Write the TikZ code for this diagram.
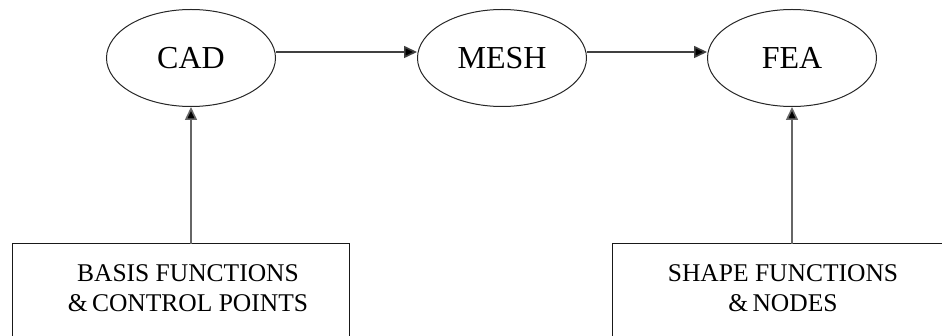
\documentclass[tikz,border=0pt]{standalone}
\usepackage{fontspec}
\setmainfont{Liberation Serif}
\usetikzlibrary{arrows.meta,shapes.geometric}
\begin{document}
\begin{tikzpicture}[x=1pt,y=-1pt,
  ell/.style={draw=black!85, line width=1pt, ellipse, minimum width=169pt, minimum height=97pt, inner sep=0pt, font=\fontsize{32}{34}\selectfont},
  boxx/.style={anchor=north west, inner sep=0pt},
  boxline/.style={draw=black!90, line width=1pt},
  lbl/.style={align=center, font=\fontsize{25.5}{30}\selectfont, inner sep=0pt},
  arr/.style={draw=black!60, line width=1.6pt, -{Triangle[length=13pt,width=12pt,fill=black]}}
]
\useasboundingbox (0,0) rectangle (942,336);
\clip (0,0) rectangle (942,336);
\node[ell] (cad) at (191,58) {CAD};
\node[ell] (mesh) at (502,58) {MESH};
\node[ell] (fea) at (792,58) {FEA};
\node[boxx, minimum width=337pt, minimum height=130pt] (basis) at (12,244) {};
\node[boxx, minimum width=400pt, minimum height=130pt] (shape) at (612,244) {};
\draw[boxline] (basis.south west) -- (basis.north west) -- (basis.north east) -- (basis.south east);
\draw[boxline] (shape.south west) -- (shape.north west) -- (shape.north east);
\node[lbl] (basistxt) at (188,288) {BASIS FUNCTIONS\\\&\,CONTROL POINTS};
\node[lbl] (shapetxt) at (783,288) {SHAPE FUNCTIONS\\\&\,NODES};
\coordinate (c1) at (276,52);
\draw[arr, draw=black!75] (cad.east |- c1) -- (mesh.west |- c1);
\draw[arr, draw=black!75] (mesh.east |- c1) -- (fea.west |- c1);
\draw[arr] (cad.south |- basis.north) -- (cad.south);
\draw[arr] (fea.south |- shape.north) -- (fea.south);
\end{tikzpicture}
\end{document}
